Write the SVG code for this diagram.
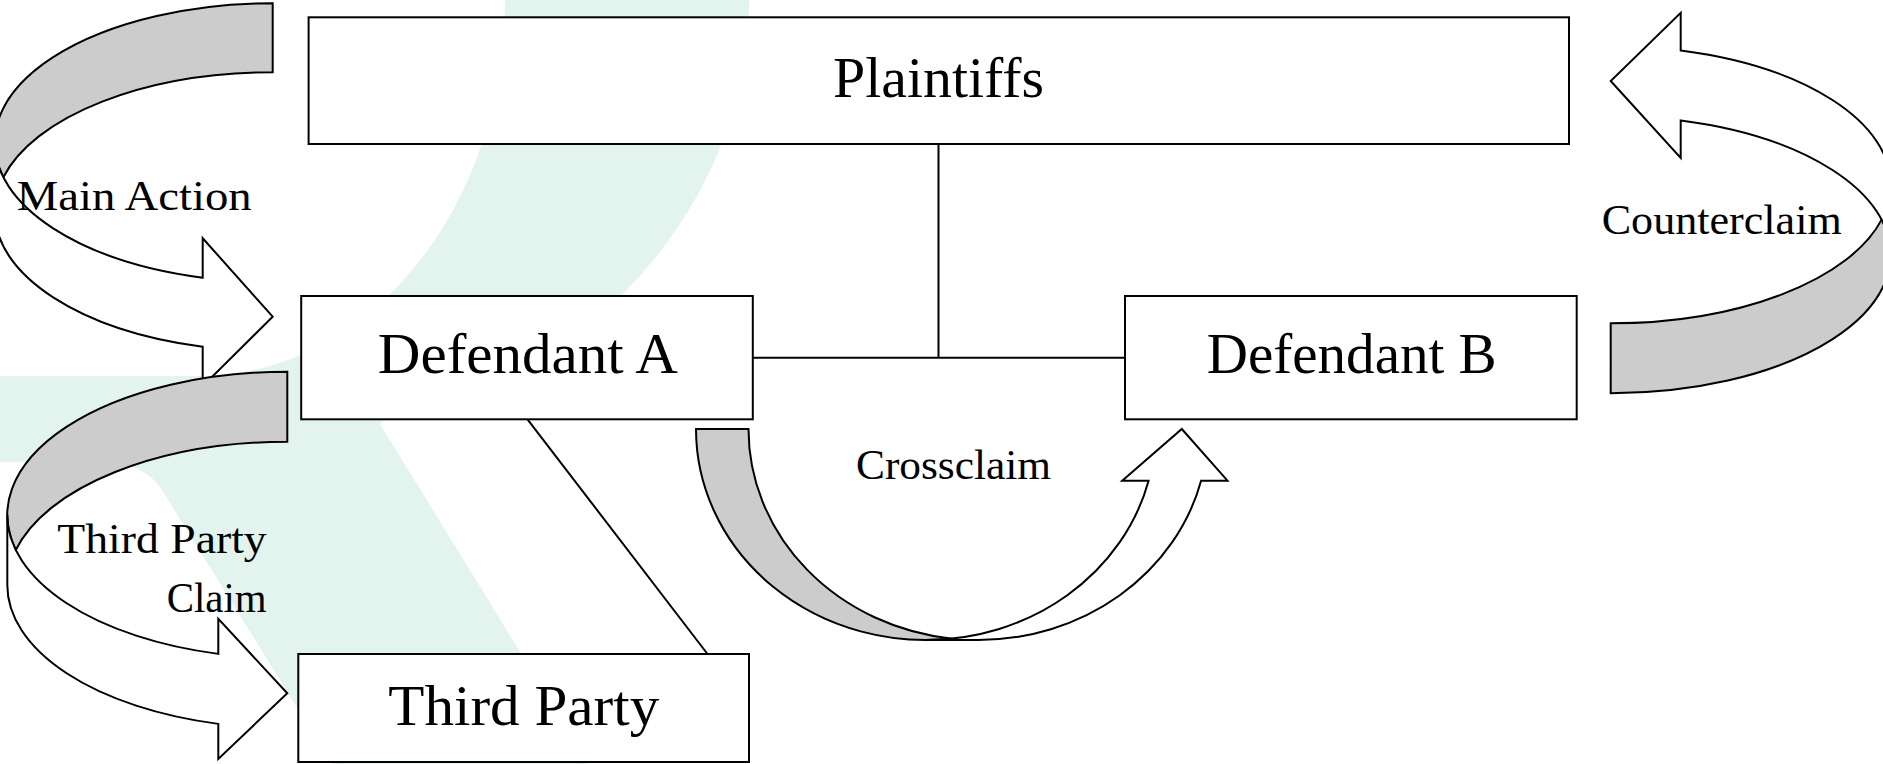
<svg xmlns="http://www.w3.org/2000/svg" width="1883" height="764" viewBox="0 0 1883 764">
<style>
.bg{fill:#e3f4ee}
.box{fill:#fff;stroke:#000;stroke-width:2}
.lbl{font-family:"Liberation Serif","Times New Roman",serif;fill:#000}
.node{font-size:57px}
.small{font-size:43px}
.back{fill:#cccccc;stroke:#000;stroke-width:2}
.front{fill:#fff;stroke:#000;stroke-width:2}
.conn{stroke:#000;stroke-width:2;fill:none}
</style>
<rect width="1883" height="764" fill="#fff"/>
<path class="bg" d="M505,0 L749,0 A549 461 0 0 1 451,410 L384,419 L380,424 L589,764 L332,764 L162,490 Q144,462 100,462 L0,462 L0,376 L200,376 A305 376 0 0 0 505,0 Z"/>

<g id="connectors" class="conn">
  <line x1="938.5" y1="144" x2="938.5" y2="357.7"/>
  <line x1="752.8" y1="357.7" x2="1125" y2="357.7"/>
  <line x1="527.5" y1="419.3" x2="707.5" y2="654"/>
</g>

<g id="plaintiffs">
  <rect class="box" x="308.6" y="17.3" width="1260.4" height="126.7"/>
  <text class="lbl node" x="938.5" y="96.7" text-anchor="middle" textLength="211" lengthAdjust="spacingAndGlyphs">Plaintiffs</text>
</g>
<g id="defendant-a">
  <rect class="box" x="301.2" y="296" width="451.6" height="123.3"/>
  <text class="lbl node" x="527.8" y="373.3" text-anchor="middle" textLength="300" lengthAdjust="spacingAndGlyphs">Defendant A</text>
</g>
<g id="defendant-b">
  <rect class="box" x="1125" y="296" width="451.7" height="123.3"/>
  <text class="lbl node" x="1351.7" y="372.7" text-anchor="middle" textLength="290" lengthAdjust="spacingAndGlyphs">Defendant B</text>
</g>
<g id="third-party">
  <rect class="box" x="298.3" y="654" width="450.7" height="108"/>
  <text class="lbl node" x="523.8" y="725" text-anchor="middle" textLength="271" lengthAdjust="spacingAndGlyphs">Third Party</text>
</g>

<g id="claims">
  <g id="main-action" transform="translate(-5.3,3.3)">
    <path class="back" d="M278,69 A278 139.45 0 0 0 8.64,173.95 A278 139.45 0 0 1 278,0 Z"/>
    <path class="front" d="M0,139.45 A278 139.45 0 0 0 208,274.41 L208,234.91 L278,313.4 L208,382.91 L208,343.41 A278 139.45 0 0 1 0,208.45 Z"/>
  </g>
  <g id="third-party-claim" transform="translate(7.3,371.7)">
    <path class="back" d="M280,70 A280 143.3 0 0 0 8.48,178.3 A280 143.3 0 0 1 280,0 Z"/>
    <path class="front" d="M0,143.3 A280 143.3 0 0 0 211,282.18 L211,247.18 L280,321.6 L211,387.18 L211,352.18 A280 143.3 0 0 1 0,213.3 Z"/>
  </g>
  <g id="counterclaim" transform="matrix(-1,0,0,-1,1890.7,393.3)">
    <path class="back" d="M280,70 A280 138.65 0 0 0 9.07,173.65 A280 138.65 0 0 1 280,0 Z"/>
    <path class="front" d="M0,138.65 A280 138.65 0 0 0 210,272.9 L210,235.4 L280,312.3 L210,380.4 L210,342.9 A280 138.65 0 0 1 0,208.65 Z"/>
  </g>
  <g id="crossclaim" transform="matrix(0,-1,1,0,696,640)">
    <path class="back" d="M211,52.5 A211 229.8 0 0 0 1.38,256.05 A211 229.8 0 0 1 211,0 Z"/>
    <path class="front" d="M0,229.8 A211 229.8 0 0 0 159.3,452.6 L159.3,426.2 L211,485.8 L159.3,531.5 L159.3,505.1 A211 229.8 0 0 1 0,282.3 Z"/>
  </g>
</g>

<g id="claim-labels">
  <text class="lbl small" x="16.7" y="209.5" textLength="235" lengthAdjust="spacingAndGlyphs">Main Action</text>
  <text class="lbl small" x="57.3" y="553.3" textLength="209.4" lengthAdjust="spacingAndGlyphs">Third Party</text>
  <text class="lbl small" x="266.7" y="611.7" text-anchor="end" textLength="100" lengthAdjust="spacingAndGlyphs">Claim</text>
  <text class="lbl small" x="1601.7" y="233.5" textLength="240" lengthAdjust="spacingAndGlyphs">Counterclaim</text>
  <text class="lbl small" x="856" y="479" textLength="195" lengthAdjust="spacingAndGlyphs">Crossclaim</text>
</g>
</svg>
